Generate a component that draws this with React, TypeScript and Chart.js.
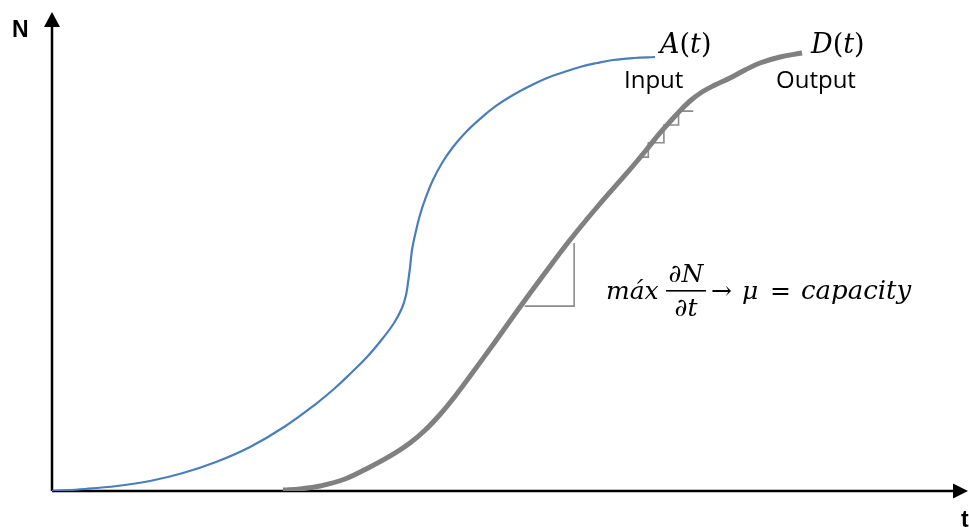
import { useEffect, useRef } from 'react';
import { Chart, registerables } from 'chart.js';

Chart.register(...registerables);

// Cumulative arrivals A(t): time and count
const inputT = [0, 3.60, 7.10, 10.70, 14.30, 17.90, 21.62, 25.33, 28.93, 30.90, 32.53, 34.39, 36.14, 37.34, 38.21, 38.65, 38.86, 39.08, 39.30, 39.63, 40.17, 40.83, 41.59, 42.58, 43.78, 45.20, 46.72, 48.47, 50.33, 52.18, 54.04, 55.90, 57.64, 59.50, 61.24, 63.54, 65.83];
const inputN = [0, 0.42, 1.04, 2.09, 3.76, 6.05, 9.19, 13.36, 18.37, 21.50, 24.43, 27.97, 31.94, 35.07, 38.20, 40.92, 43.42, 46.56, 50.31, 53.44, 57.62, 61.38, 64.93, 68.48, 71.82, 74.95, 77.66, 80.38, 82.67, 84.55, 86.22, 87.47, 88.52, 89.35, 89.98, 90.40, 90.61];

// Cumulative departures D(t): time and count
const outputT = [25.22, 27.07, 29.26, 31.99, 34.72, 37.12, 39.08, 40.72, 42.36, 44.00, 45.63, 48.36, 51.09, 53.82, 56.55, 59.61, 62.77, 64.74, 66.38, 68.23, 69.65, 70.96, 72.38, 74.02, 75.66, 77.29, 79.48, 81.88];
const outputN = [0.21, 0.42, 1.04, 2.51, 5.01, 7.52, 10.02, 12.67, 15.97, 19.79, 23.97, 31.11, 38.41, 45.51, 52.40, 59.50, 66.39, 70.88, 74.74, 78.71, 81.42, 83.30, 84.76, 86.22, 87.89, 89.35, 90.61, 91.44];

// Slope triangle marking the maximum service rate
const slopeT = [51.6, 57.0, 57.0];
const slopeN = [38.6, 38.6, 51.8];

// Small staircase along the departure curve
const stairT = [64.2, 65.1, 65.1, 66.8, 66.8, 68.4, 68.4, 70.0];
const stairN = [69.7, 69.7, 72.7, 72.7, 76.4, 76.4, 79.3, 79.3];

const pts = (xs: number[], ys: number[]) => xs.map((x, i) => ({ x, y: ys[i] }));

const MATH = '"DejaVu Serif"';

function runText(ctx: CanvasRenderingContext2D, runs: [string, boolean][], x: number, y: number, size: number) {
  let cx = x;
  for (const [t, it] of runs) {
    ctx.font = `${it ? 'italic ' : ''}${size}px ${MATH}`;
    ctx.fillText(t, cx, y);
    cx += ctx.measureText(t).width;
  }
}

const axesPlugin = {
  id: 'arrowAxes',
  beforeDatasetsDraw(chart: any) {
    const { ctx, scales } = chart;
    const x0 = scales.x.getPixelForValue(0);
    const y0 = scales.y.getPixelForValue(0);
    const xEnd = scales.x.getPixelForValue(100);
    const yEnd = scales.y.getPixelForValue(100);
    ctx.save();
    ctx.strokeStyle = '#000';
    ctx.fillStyle = '#000';
    ctx.lineWidth = 2.5;
    ctx.beginPath();
    ctx.moveTo(x0, y0);
    ctx.lineTo(x0, yEnd + 12);
    ctx.moveTo(x0, y0);
    ctx.lineTo(xEnd - 12, y0);
    ctx.stroke();
    ctx.beginPath();
    ctx.moveTo(x0, yEnd);
    ctx.lineTo(x0 - 8, yEnd + 15);
    ctx.lineTo(x0 + 8, yEnd + 15);
    ctx.closePath();
    ctx.fill();
    ctx.beginPath();
    ctx.moveTo(xEnd, y0);
    ctx.lineTo(xEnd - 15, y0 - 7.5);
    ctx.lineTo(xEnd - 15, y0 + 7.5);
    ctx.closePath();
    ctx.fill();
    ctx.restore();
  },
  afterDraw(chart: any) {
    const { ctx } = chart;
    ctx.save();
    ctx.fillStyle = '#000';
    ctx.textBaseline = 'alphabetic';
    ctx.textAlign = 'left';

    // axis names
    ctx.font = 'bold 23px "Liberation Sans"';
    ctx.fillText('N', 12, 37);
    ctx.fillText('t', 961, 527);

    // curve labels
    runText(ctx, [['A', true], ['(', false], ['t', true], [')', false]], 660, 53, 27);
    runText(ctx, [['D', true], ['(', false], ['t', true], [')', false]], 811, 53, 27);
    ctx.font = '24px "Open Sans"';
    ctx.fillText('Input', 624, 88);
    ctx.fillText('Output', 776, 88);

    // max slope formula
    ctx.font = `italic 25px ${MATH}`;
    ctx.fillText('máx', 606, 299);
    ctx.textAlign = 'center';
    ctx.fillText('∂N', 686, 282);
    ctx.fillText('∂t', 686, 316);
    ctx.fillRect(666, 290, 40, 1.6);
    ctx.textAlign = 'left';
    ctx.font = `25px ${MATH}`;
    ctx.fillText('→', 711, 299);
    ctx.font = `italic 25px ${MATH}`;
    ctx.fillText('μ', 742, 299);
    ctx.font = `25px ${MATH}`;
    ctx.fillText('=', 770, 299);
    ctx.font = `italic 26px ${MATH}`;
    ctx.fillText('capacity', 801, 299);
    ctx.restore();
  },
};

export default function App() {
  const ref = useRef<HTMLCanvasElement>(null);

  useEffect(() => {
    if (!ref.current) return;
    const chart = new Chart(ref.current, {
      type: 'scatter',
      data: {
        datasets: [
          {
            label: 'A(t)',
            data: pts(inputT, inputN),
            showLine: true,
            borderColor: '#4A7EBB',
            borderWidth: 2.2,
            pointRadius: 0,
            tension: 0.4,
            order: 0,
          },
          {
            label: 'D(t)',
            data: pts(outputT, outputN),
            showLine: true,
            borderColor: '#808080',
            borderWidth: 5,
            pointRadius: 0,
            tension: 0.4,
            borderCapStyle: 'butt',
            order: 1,
          },
          {
            label: 'slope',
            data: pts(slopeT, slopeN),
            showLine: true,
            borderColor: '#8c8c8c',
            borderWidth: 1.6,
            pointRadius: 0,
            tension: 0,
            order: 2,
          },
          {
            label: 'steps',
            data: pts(stairT, stairN),
            showLine: true,
            borderColor: '#8c8c8c',
            borderWidth: 1.6,
            pointRadius: 0,
            tension: 0,
            order: 3,
          },
        ],
      },
      options: {
        responsive: false,
        animation: false,
        layout: { padding: { left: 52, right: 1, top: 12, bottom: 36 } },
        plugins: { legend: { display: false }, tooltip: { enabled: false } },
        scales: {
          x: { type: 'linear', min: 0, max: 100, display: false },
          y: { type: 'linear', min: 0, max: 100, display: false },
        },
      },
      plugins: [axesPlugin],
    });
    return () => chart.destroy();
  }, []);

  return (
    <div style={{ position: 'fixed', left: 0, top: 0, width: 969, height: 527, background: '#fff' }}>
      <canvas ref={ref} width={969} height={527} />
    </div>
  );
}
